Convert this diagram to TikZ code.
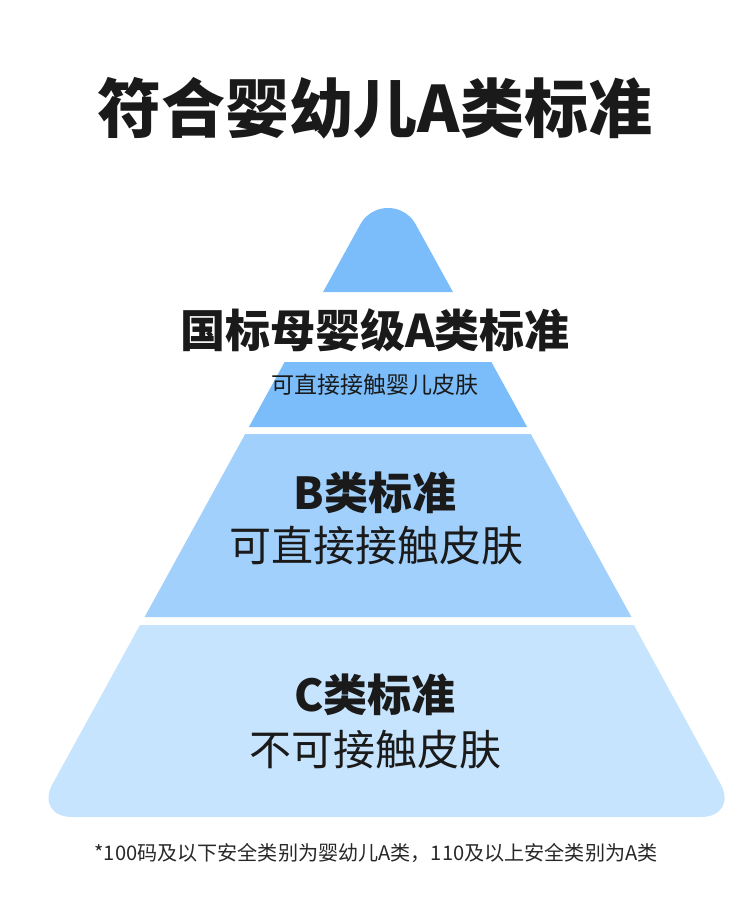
\documentclass[tikz,border=0pt]{standalone}
\usepackage{fontspec}
\newfontfamily\cjk{Noto Sans CJK SC}
\definecolor{topc}{RGB}{122,189,250}
\definecolor{midc}{RGB}{161,208,252}
\definecolor{lowc}{RGB}{198,228,253}
\definecolor{ink}{RGB}{26,26,26}
\definecolor{noteink}{RGB}{40,40,40}
\begin{document}
\begin{tikzpicture}[x=1pt,y=-1pt,
  txt/.style={inner sep=0pt, anchor=base, text=ink},
  boldtxt/.style={txt, font=\cjk\fontsize{#1}{#1}\selectfont\bfseries},
  regtxt/.style={txt, font=\cjk\fontsize{#1}{#1}\selectfont}]
\useasboundingbox (0,0) rectangle (750,914);
\fill[white] (0,0) rectangle (750,914);
% top band (rounded apex, circular arc)
\fill[topc] (323.1,292) -- (360.3,224.4)
  -- plot[domain=151.2:28.8, samples=50] ({388+31.6*cos(\x)}, {239.6-31.6*sin(\x)})
  -- (452.9,292) -- cycle;
% band A lower part
\fill[topc] (284.6,362) -- (491.4,362) -- (527.1,427) -- (248.9,427) -- cycle;
% band B
\fill[midc] (245.2,434) -- (530.8,434) -- (631.4,617) -- (144.6,617) -- cycle;
% band C (rounded bottom corners)
\begin{scope}
  \clip (0,625) rectangle (750,914);
  \fill[lowc, rounded corners=38pt] (388,174) -- (738.6,817) -- (34.4,817) -- cycle;
\end{scope}
% texts
\node[boldtxt=64] (title) at (375,132.3) {符合婴幼儿A类标准};
\node[boldtxt=45] (alab) at (375,347.1) {国标母婴级A类标准};
\node[regtxt=23] (adesc) at (375,393.7) {可直接接触婴儿皮肤};
\node[boldtxt=44] (blab) at (375,509.7) {B类标准};
\node[regtxt=42] (bdesc) at (376,561) {可直接接触皮肤};
\node[boldtxt=44] (clab) at (375,711.7) {C类标准};
\node[regtxt=42] (cdesc) at (375,765) {不可接触皮肤};
\node[regtxt=20.1, text=noteink] (note) at (376,860.6) {*100码及以下安全类别为婴幼儿A类，110及以上安全类别为A类};
\end{tikzpicture}
\end{document}
